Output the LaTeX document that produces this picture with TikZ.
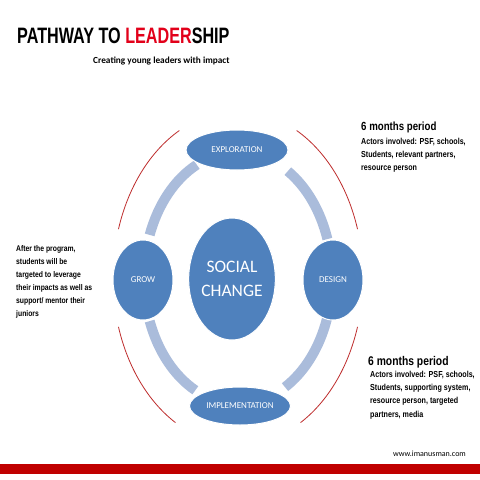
\documentclass[tikz,border=0pt]{standalone}
\usepackage{fontspec}
\setmainfont{Carlito}
\newfontfamily\titlefont[FakeStretch=0.725]{Liberation Sans}
\newfontfamily\narrowfont[FakeStretch=0.82]{Liberation Sans}
\usetikzlibrary{shapes.geometric}
\definecolor{stageblue}{RGB}{79,129,189}
\definecolor{ringblue}{RGB}{170,188,219}
\definecolor{bracketred}{RGB}{190,45,45}
\definecolor{titlered}{RGB}{226,0,26}
\definecolor{barred}{RGB}{192,0,0}
\begin{document}
\begin{tikzpicture}[x=1pt,y=1pt,
  stage/.style={ellipse, fill=stageblue, draw=white, line width=1pt, text=white, inner sep=0pt, font=\fontsize{9}{11}\selectfont},
  ring/.style={ringblue, line width=10pt},
  bracket/.style={bracketred, line width=0.8pt},
  note/.style={anchor=north west, align=left, inner sep=0pt, font=\narrowfont\bfseries\fontsize{8.3}{13}\selectfont}]
\useasboundingbox (0,0) rectangle (480,-480);
\fill[white] (0,0) rectangle (480,-480);
\coordinate (ctr) at (238,-278);
\foreach \a/\b in {18/58,116/160,200/243,300/341}
  \draw[ring] ([shift={(\a:94 and 126)}]ctr) arc[start angle=\a, end angle=\b, x radius=94, y radius=126];
\foreach \a/\b in {17/62,118/163,197/240,300/343}
  \draw[bracket] ([shift={(\a:125 and 167)}]ctr) arc[start angle=\a, end angle=\b, x radius=125, y radius=167];
\node[stage, minimum width=102pt, minimum height=40pt] (expl) at (237,-150) {EXPLORATION};
\node[stage, minimum width=60pt, minimum height=80pt] (grow) at (143,-280) {GROW};
\node[stage, minimum width=60pt, minimum height=80pt] (design) at (333,-280) {DESIGN};
\node[stage, minimum width=101pt, minimum height=38pt] (impl) at (240,-406) {IMPLEMENTATION};
\node[stage, minimum width=74pt, minimum height=122pt, align=center, font=\fontsize{17.5}{24}\selectfont] (social) at (232,-279) {SOCIAL\\CHANGE};
\node[anchor=base west, inner sep=0pt, font=\titlefont\bfseries\fontsize{22.3}{26}\selectfont] (title) at (17,-43) {PATHWAY TO \textcolor{titlered}{LEADER}SHIP};
\node[anchor=base west, inner sep=0pt, font=\bfseries\fontsize{9.3}{11}\selectfont] (subtitle) at (93,-63.5) {Creating young leaders with impact};
\node[note, font=\narrowfont\bfseries\fontsize{11.8}{14}\selectfont] (period1) at (361,-122) {6 months period};
\node[note, font=\narrowfont\bfseries\fontsize{8.7}{13}\selectfont] (actors1) at (361,-138) {Actors involved: PSF, schools,\\Students, relevant partners,\\resource person};
\node[note] (after) at (16,-245) {After the program,\\students will be\\targeted to leverage\\their impacts as well as\\support/ mentor their\\juniors};
\node[note, font=\narrowfont\bfseries\fontsize{12.6}{14}\selectfont] (period2) at (368,-356) {6 months period};
\node[note, font=\narrowfont\bfseries\fontsize{8.7}{13.2}\selectfont] (actors2) at (370,-371) {Actors involved: PSF, schools,\\Students, supporting system,\\resource person, targeted\\partners, media};
\node[anchor=base west, inner sep=0pt, font=\fontsize{8}{10}\selectfont] (web) at (393,-456) {www.imanusman.com};
\fill[barred] (0,-464) rectangle (480,-473.5);
\end{tikzpicture}
\end{document}
